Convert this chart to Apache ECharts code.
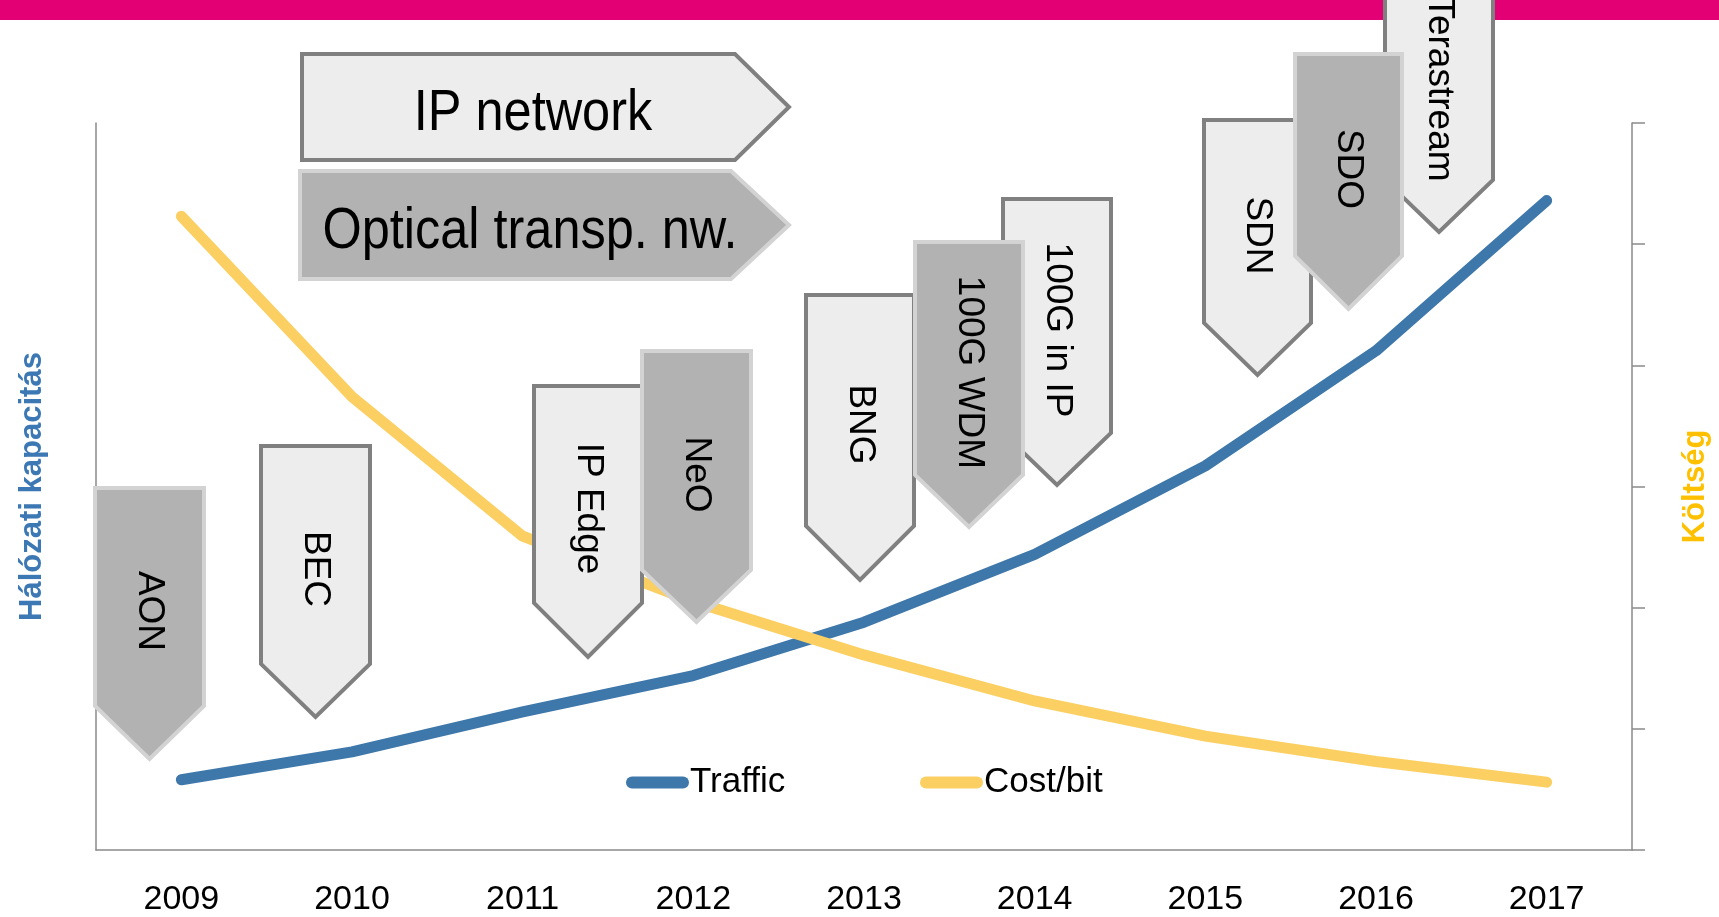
<!DOCTYPE html>
<html>
<head>
<meta charset="utf-8"/>
<title>Traffic vs Cost/bit</title>
<script src="https://cdn.jsdelivr.net/npm/echarts@6.0.0/dist/echarts.min.js"></script>
<style>
  html, body { margin: 0; padding: 0; background: #fff; }
  #container { width: 1719px; height: 917px; }
</style>
</head>
<body>
<div id="container"></div>
<script type="text/javascript">
    // adatok
    var years = ['2009', '2010', '2011', '2012', '2013', '2014', '2015', '2016', '2017'];
    var traffic = [0.58, 0.81, 1.14, 1.44, 1.88, 2.44, 3.17, 4.12, 5.36];
    var costPerBit = [5.23, 3.74, 2.59, 2.05, 1.61, 1.23, 0.94, 0.73, 0.56];

    var techLabels = ['AON', 'BEC', 'IP Edge', 'NeO', 'BNG', '100G WDM', '100G in IP', 'SDN', 'SDO', 'Terastream'];
    var techLayer = ['optical', 'ip', 'ip', 'optical', 'ip', 'optical', 'ip', 'ip', 'optical', 'ip'];

    var sans = "'Liberation Sans', Arial, sans-serif";

    var boxStyle = {
        ip: { fill: '#ededed', stroke: '#808080', lineWidth: 4, lineJoin: 'miter' },
        optical: { fill: '#b2b2b2', stroke: '#d3d3d3', lineWidth: 4, lineJoin: 'miter' }
    };

    // callout layout: left, right, top, shoulder, tip (pixels)
    var calloutLayout = [
        [95, 204, 488, 706, 759],
        [261, 370, 446, 664, 717],
        [534, 642, 386, 603, 657],
        [642, 751, 351, 570, 622],
        [806, 914, 295, 526, 580],
        [915, 1023, 242, 475, 527],
        [1003, 1111, 199, 433, 485],
        [1204, 1311, 120, 323, 375],
        [1295, 1402, 54, 256, 309],
        [1385, 1493, -30, 180, 232]
    ];

    function buildGraphics() {
        var g = [];
        // magenta csík felül
        g.push({ type: 'rect', z: 5, shape: { x: 0, y: 0, width: 1719, height: 20 }, style: { fill: '#e20074' } });

        // vízszintes nyilak
        g.push({
            type: 'polygon', z: 6,
            shape: { points: [[302, 54], [735, 54], [789, 107], [735, 160], [302, 160]] },
            style: boxStyle.ip
        });
        g.push({
            type: 'text', z: 7, x: 533, y: 114, scaleX: 0.87,
            style: { text: 'IP network', font: '58px ' + sans, fill: '#000', align: 'center', verticalAlign: 'middle' }
        });
        g.push({
            type: 'polygon', z: 6,
            shape: { points: [[300, 171], [731, 171], [789, 225], [731, 279], [300, 279]] },
            style: boxStyle.optical
        });
        g.push({
            type: 'text', z: 7, x: 530, y: 232, scaleX: 0.87,
            style: { text: 'Optical transp. nw.', font: '58px ' + sans, fill: '#000', align: 'center', verticalAlign: 'middle' }
        });

        // lefelé mutató nyilak: ip előbb, optikai felül
        var order = [];
        for (var i = 0; i < techLabels.length; i++) if (techLayer[i] === 'ip') order.push(i);
        for (var i = 0; i < techLabels.length; i++) if (techLayer[i] === 'optical') order.push(i);

        for (var k = 0; k < order.length; k++) {
            var idx = order[k];
            var b = calloutLayout[idx];
            var cx = (b[0] + b[1]) / 2;
            g.push({
                type: 'polygon', z: 10 + k * 2,
                shape: { points: [[b[0], b[2]], [b[1], b[2]], [b[1], b[3]], [cx, b[4]], [b[0], b[3]]] },
                style: boxStyle[techLayer[idx]]
            });
            g.push({
                type: 'text', z: 11 + k * 2, x: cx, y: (b[2] + b[3]) / 2 + 14,
                rotation: -Math.PI / 2,
                style: { text: techLabels[idx], font: '37px ' + sans, fill: '#000', align: 'center', verticalAlign: 'middle' }
            });
        }
        return g;
    }

    var myChart = echarts.init(document.getElementById('container'));

    var legendIcon = 'path://M6,0H57A6,6,0,0,1,57,12H6A6,6,0,0,1,6,0Z';

    var option = {
        animation: false,
        grid: {
            left: 96,
            right: 75,
            top: 123,
            bottom: 66
        },
        legend: [{
            data: ['Traffic'],
            left: 626,
            top: 765,
            padding: 0,
            itemWidth: 63,
            itemHeight: 12,
            icon: legendIcon,
            itemStyle: { borderWidth: 0 },
            textStyle: { fontSize: 35, fontFamily: sans, color: '#000', padding: [0, 0, 0, -4] }
        }, {
            data: ['Cost/bit'],
            left: 920,
            top: 765,
            padding: 0,
            itemWidth: 63,
            itemHeight: 12,
            icon: legendIcon,
            itemStyle: { borderWidth: 0 },
            textStyle: { fontSize: 35, fontFamily: sans, color: '#000', padding: [0, 0, 0, -4] }
        }],
        xAxis: {
            type: 'category',
            data: years,
            boundaryGap: true,
            axisLine: { lineStyle: { color: '#8a8a8a', width: 1.5 } },
            axisTick: { show: false },
            axisLabel: { fontSize: 34, fontFamily: sans, color: '#000', margin: 33 }
        },
        yAxis: [{
            type: 'value',
            min: 0,
            max: 6,
            interval: 1,
            name: 'Hálózati kapacitás',
            nameLocation: 'middle',
            nameRotate: 90,
            nameGap: 48,
            nameTextStyle: { fontSize: 31, fontWeight: 'bold', fontFamily: sans, color: '#3c78b4' },
            axisLine: { show: true, lineStyle: { color: '#8a8a8a', width: 1.5 } },
            axisTick: { show: false },
            axisLabel: { show: false },
            splitLine: { show: false }
        }, {
            type: 'value',
            position: 'right',
            min: 0,
            max: 6,
            interval: 1,
            name: 'Költség',
            nameLocation: 'middle',
            nameRotate: 90,
            nameGap: 48,
            nameTextStyle: { fontSize: 31, fontWeight: 'bold', fontFamily: sans, color: '#ffc000' },
            axisLine: { show: true, lineStyle: { color: '#8a8a8a', width: 1.5 } },
            axisTick: { show: true, length: 13, inside: false, lineStyle: { color: '#8a8a8a', width: 1.5 } },
            axisLabel: { show: false },
            splitLine: { show: false }
        }],
        series: [{
            name: 'Traffic',
            type: 'line',
            yAxisIndex: 0,
            data: traffic,
            symbol: 'none',
            color: '#3e77aa',
            lineStyle: { width: 11, cap: 'round', join: 'round' },
            z: 2
        }, {
            name: 'Cost/bit',
            type: 'line',
            yAxisIndex: 1,
            data: costPerBit,
            symbol: 'none',
            color: '#fbcf62',
            lineStyle: { width: 11, cap: 'round', join: 'round' },
            z: 2
        }],
        graphic: buildGraphics()
    };

    myChart.setOption(option);
</script>
</body>
</html>
